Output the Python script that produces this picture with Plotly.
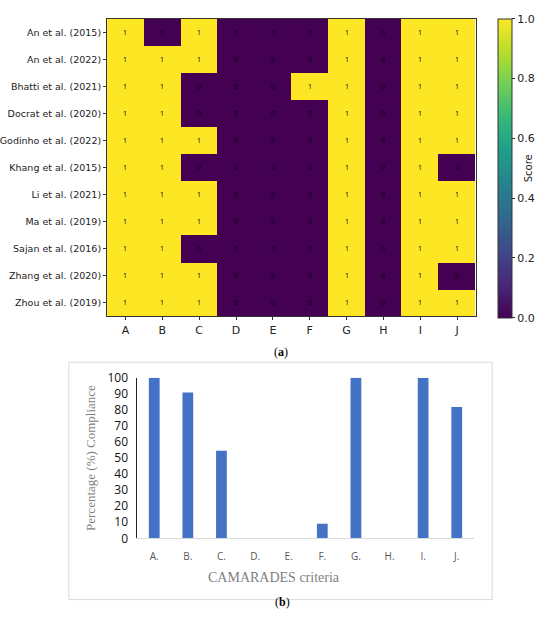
import plotly.graph_objects as go

# studies (rows, top to bottom) and CAMARADES criteria (columns)
studies = ["An et al. (2015)", "An et al. (2022)", "Bhatti et al. (2021)",
           "Docrat et al. (2020)", "Godinho et al. (2022)", "Khang et al. (2015)",
           "Li et al. (2021)", "Ma et al. (2019)", "Sajan et al. (2016)",
           "Zhang et al. (2020)", "Zhou et al. (2019)"]
criteria = ["A", "B", "C", "D", "E", "F", "G", "H", "I", "J"]

scores = [
    [1, 0, 1, 0, 0, 0, 1, 0, 1, 1],
    [1, 1, 1, 0, 0, 0, 1, 0, 1, 1],
    [1, 1, 0, 0, 0, 1, 1, 0, 1, 1],
    [1, 1, 0, 0, 0, 0, 1, 0, 1, 1],
    [1, 1, 1, 0, 0, 0, 1, 0, 1, 1],
    [1, 1, 0, 0, 0, 0, 1, 0, 1, 0],
    [1, 1, 1, 0, 0, 0, 1, 0, 1, 1],
    [1, 1, 1, 0, 0, 0, 1, 0, 1, 1],
    [1, 1, 0, 0, 0, 0, 1, 0, 1, 1],
    [1, 1, 1, 0, 0, 0, 1, 0, 1, 0],
    [1, 1, 1, 0, 0, 0, 1, 0, 1, 1],
]

# panel (b) compliance
bar_labels = ["A.", "B.", "C.", "D.", "E.", "F.", "G.", "H.", "I.", "J."]
compliance = [100, 90.9, 54.5, 0, 0, 9.1, 100, 0, 100, 81.8]

W, H = 550, 630


def px_x(p):
    return p / W


def px_y(p):
    return 1 - p / H


fig = go.Figure()

fig.add_trace(go.Heatmap(
    z=scores, x=criteria, y=studies,
    colorscale="Viridis", zmin=0, zmax=1,
    texttemplate="%{z}", textfont=dict(size=7, color="black"),
    colorbar=dict(
        x=px_x(497), xanchor="left", xpad=0, y=px_y(10), yanchor="top", ypad=0,
        len=(317 - 10) / H, lenmode="fraction", thickness=14,
        outlinewidth=1, outlinecolor="#333",
        tickvals=[0, 0.2, 0.4, 0.6, 0.8, 1.0], ticktext=["0.0", "0.2", "0.4", "0.6", "0.8", "1.0"],
        ticks="outside", ticklen=3, tickcolor="#333",
        tickfont=dict(family="DejaVu Sans", size=11, color="#222"),
        title=dict(text="Score", side="right", font=dict(family="DejaVu Sans", size=10, color="#222")),
    ),
    xaxis="x", yaxis="y",
))

fig.add_trace(go.Bar(
    x=bar_labels, y=compliance, marker=dict(color="#4472C4", line=dict(width=0)),
    width=0.32, xaxis="x2", yaxis="y2", showlegend=False,
))

fig.update_layout(
    width=W, height=H, margin=dict(l=0, r=0, t=0, b=0),
    paper_bgcolor="white", plot_bgcolor="white", showlegend=False,
    xaxis=dict(domain=[px_x(98), px_x(474)], anchor="y", showline=True, linecolor="#333",
               mirror=True, ticks="outside", ticklen=3, tickcolor="#333", showgrid=False,
               tickfont=dict(family="DejaVu Sans", size=11, color="#222")),
    yaxis=dict(domain=[px_y(316), px_y(10)], anchor="x", autorange="reversed",
               showline=True, linecolor="#333", mirror=True, ticks="outside", ticklen=3,
               tickcolor="#333", showgrid=False,
               tickfont=dict(family="DejaVu Sans", size=9.5, color="#222")),
    xaxis2=dict(domain=[px_x(129), px_x(472)], anchor="y2", showline=True, linecolor="#d9d9d9",
                showgrid=False, ticks="", ticklabelstandoff=9,
                tickfont=dict(family="Open Sans", size=10, color="#595959")),
    yaxis2=dict(domain=[px_y(544), px_y(379)], anchor="x2", range=[0, 100], dtick=10,
                showline=True, linecolor="#222", showgrid=False, ticks="", zeroline=False,
                ticklabelstandoff=6,
                tickfont=dict(family="Open Sans", size=12, color="#111"),
                title=dict(text="Percentage (%) Compliance", standoff=8,
                           font=dict(family="Liberation Serif", size=13, color="#7f7f7f"))),
)

# frame round panel (b)
fig.add_shape(type="rect", xref="paper", yref="paper",
              x0=px_x(59), x1=px_x(491), y0=px_y(607), y1=px_y(363),
              line=dict(color="#d9d9d9", width=1))

fig.add_annotation(text="CAMARADES criteria", xref="paper", yref="paper",
                   x=px_x(268), y=px_y(594), showarrow=False,
                   font=dict(family="Liberation Serif", size=14, color="#7f7f7f"))
fig.add_annotation(text="(<b>a</b>)", xref="paper", yref="paper",
                   x=px_x(275), y=px_y(353), showarrow=False,
                   font=dict(family="Liberation Serif", size=12, color="black"))
fig.add_annotation(text="(<b>b</b>)", xref="paper", yref="paper",
                   x=px_x(277), y=px_y(619), showarrow=False,
                   font=dict(family="Liberation Serif", size=12, color="black"))

fig.write_html("out.html", config={"displayModeBar": False},
               post_script="document.body.style.margin='0';")
